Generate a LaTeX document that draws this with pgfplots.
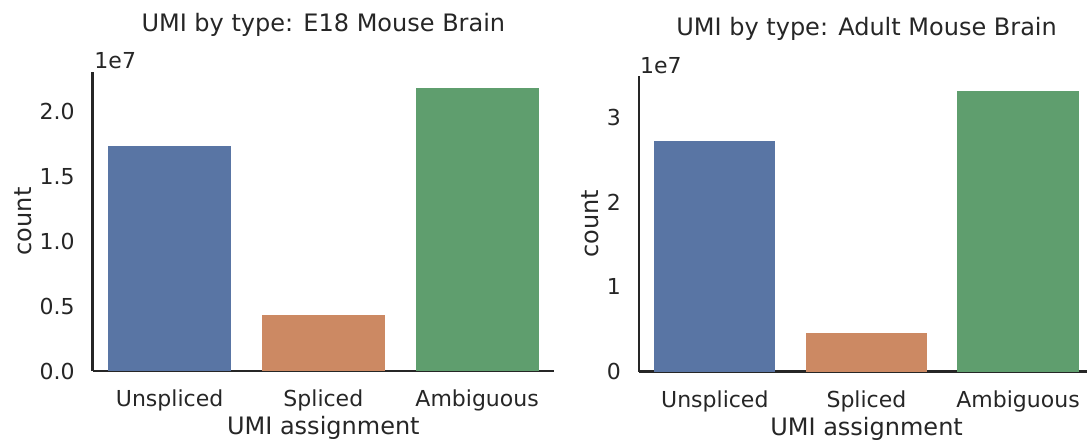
\documentclass[border=0pt]{standalone}
\usepackage{pgfplots}
\pgfplotsset{compat=1.18}
\usepackage{fontspec}
\setmainfont{DejaVu Sans}
\definecolor{cblue}{HTML}{5975A4}
\definecolor{corange}{HTML}{CC8963}
\definecolor{cgreen}{HTML}{5F9E6E}
\definecolor{txt}{HTML}{262626}
\pgfplotsset{
 every axis title shift=0pt,
 base/.style={
  scale only axis,
  clip=false,
  axis lines*=left,
  axis line style={-, line width=2.5pt, color=txt},
  ybar, bar width=0.8, bar shift=0pt,
  ymin=0, xmin=-0.5,
  xtick={0,1,2}, xticklabels={Unspliced,Spliced,Ambiguous},
  major tick length=0pt,
  tick style={draw=none},
  scaled y ticks=false,
  /pgf/number format/assume math mode=true,
  ticklabel style={font=\fontsize{22}{26}\selectfont, text=txt, inner sep=0pt},
  xticklabel style={yshift=-19pt},
  yticklabel style={xshift=-18pt},
  label style={font=\fontsize{24}{28}\selectfont, text=txt, inner sep=0pt},
  title style={font=\fontsize{24}{28}\selectfont, text=txt, inner sep=0pt},
 }
}
\begin{document}
\begin{tikzpicture}
\begin{axis}[base, at={(92.7pt,69pt)}, anchor=south west,
  width=461.3pt, height=299.3pt, xmax=2.5, ymax=2.306,
  ytick={0,0.5,1,1.5,2},
  yticklabel style={/pgf/number format/fixed, /pgf/number format/fixed zerofill, /pgf/number format/precision=1},
  title={UMI by type: E18 Mouse Brain},
  title style={at={(axis description cs:0.5,1.1336)}, anchor=base},
  xlabel={UMI assignment},
  xlabel style={at={(axis description cs:0.5,-0.2138)}, anchor=base},
  ylabel={count},
  ylabel style={at={(axis description cs:-0.1316,0.5)}, anchor=base}]
\addplot[fill=cblue, draw=none] coordinates {(0,1.736)};
\addplot[fill=corange, draw=none] coordinates {(1,0.431)};
\addplot[fill=cgreen, draw=none] coordinates {(2,2.183)};
\node[anchor=base west, inner sep=0pt, text=txt, font=\fontsize{22}{26}\selectfont, xshift=1.6pt, yshift=3.4pt] at (rel axis cs:0,1) {1e7};
\end{axis}
\begin{axis}[base, at={(639pt,68.3pt)}, anchor=south west,
  width=448pt, height=295.7pt, xmax=2.455, ymax=3.49,
  ytick={0,1,2,3},
  title={UMI by type: Adult Mouse Brain},
  title style={at={(axis description cs:0.508,1.1353)}, anchor=base},
  xlabel={UMI assignment},
  xlabel style={at={(axis description cs:0.508,-0.2141)}, anchor=base},
  ylabel={count},
  ylabel style={at={(axis description cs:-0.0908,0.5)}, anchor=base}]
\addplot[fill=cblue, draw=none] coordinates {(0,2.724)};
\addplot[fill=corange, draw=none] coordinates {(1,0.452)};
\addplot[fill=cgreen, draw=none] coordinates {(2,3.311)};
\node[anchor=base west, inner sep=0pt, text=txt, font=\fontsize{22}{26}\selectfont, xshift=1pt, yshift=2.7pt] at (rel axis cs:0,1) {1e7};
\end{axis}
\pgfresetboundingbox
\path[use as bounding box] (0pt,0pt) rectangle (1087pt,440pt);
\end{tikzpicture}
\end{document}
